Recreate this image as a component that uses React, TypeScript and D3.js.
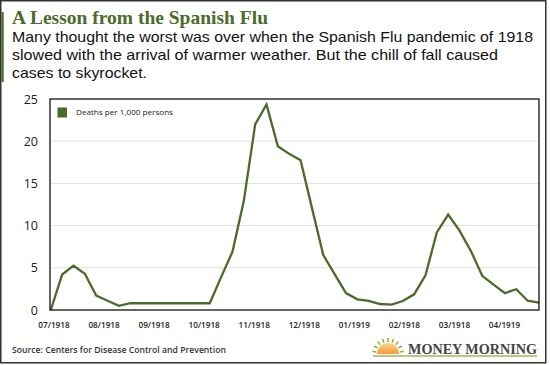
import React from "react";
import * as d3 from "d3";

const xLabels = ["07/1918", "08/1918", "09/1918", "10/1918", "11/1918", "12/1918", "01/1919", "02/1918", "03/1918", "04/1919"];
const yTicks = [0, 5, 10, 15, 20, 25];
const deaths = [0, 4.2, 5.25, 4.3, 1.7, 1.1, 0.5, 0.8, 0.8, 0.8, 0.8, 0.8, 0.8, 0.8, 0.8, 3.9, 6.9, 12.9, 22.0, 24.35, 19.4, 18.5, 17.75, 12.1, 6.5, 4.25, 2.0, 1.27, 1.07, 0.71, 0.63, 1.07, 1.86, 4.1, 9.2, 11.3, 9.4, 7.0, 4.05, 3.0, 2.0, 2.46, 1.1, 0.87];
const seriesName = "Deaths per 1,000 persons";
const title = "A Lesson from the Spanish Flu";
const subtitle = [
  "Many thought the worst was over when the Spanish Flu pandemic of 1918",
  "slowed with the arrival of warmer weather. But the chill of fall caused",
  "cases to skyrocket.",
];
const subtitleWidths = [521, 486, 135];
const source = "Source: Centers for Disease Control and Prevention";

const GREEN = "#4b6b2a";
const SANS = "'Open Sans', 'Noto Sans', sans-serif";
const SUB = "'Liberation Sans', Arial, sans-serif";

export default function App() {
  const plot = { l: 50, r: 539, t: 99, b: 310 };
  const x = d3.scaleLinear().domain([0, deaths.length - 1]).range([plot.l + 0.8, plot.r]);
  const y = d3.scaleLinear().domain([0, 25]).range([plot.b, plot.t]);
  const xl = d3.scalePoint<string>().domain(xLabels).range([54, 504.5]);
  const line = d3
    .line<number>()
    .x((_, i) => x(i))
    .y((d) => y(d));

  const rays = d3.range(9).map((i) => -Math.PI + (Math.PI * (i + 0.5)) / 9);

  return (
    <svg width={550} height={365} style={{ position: "absolute", left: 0, top: 0 }} xmlns="http://www.w3.org/2000/svg">
      <defs>
        <linearGradient id="sun" x1="0" y1="0" x2="0" y2="1">
          <stop offset="0" stopColor="#fbd38a" />
          <stop offset="1" stopColor="#f59a3a" />
        </linearGradient>
      </defs>
      <rect x={0} y={0} width={550} height={365} fill="#fff" />
      <rect x={0.75} y={0.75} width={545} height={362} fill="none" stroke="#333" strokeWidth={1.5} />
      <rect x={1.5} y={12} width={2.2} height={70} fill={GREEN} />

      <text x={12} y={24} fontFamily="'Liberation Serif', 'DejaVu Serif', serif" fontWeight="bold" fontSize={19} fill={GREEN} textLength={256} lengthAdjust="spacingAndGlyphs">
        {title}
      </text>
      {subtitle.map((s, i) => (
        <text key={i} x={12} y={42 + i * 18} fontFamily={SUB} fontSize={14.5} fill="#111" textLength={subtitleWidths[i]} lengthAdjust="spacingAndGlyphs">
          {s}
        </text>
      ))}

      {/* gridlines */}
      {yTicks
        .filter((t) => t > 0 && t < 25)
        .map((t) => (
          <line key={t} x1={plot.l} x2={plot.r} y1={y(t)} y2={y(t)} stroke="#e0e0e0" strokeWidth={1} />
        ))}
      {yTicks.map((t) => (
        <text key={t} x={38} y={y(t)} dy="0.36em" textAnchor="end" fontFamily={SANS} fontSize={12.5} fontWeight={500} fill="#222">
          {t}
        </text>
      ))}
      {xLabels.map((l) => (
        <text key={l} x={xl(l)} y={328} textAnchor="middle" fontFamily={SANS} fontSize={8.2} fontWeight={600} fill="#222">
          {l}
        </text>
      ))}

      <path d={line(deaths) || ""} fill="none" stroke={GREEN} strokeWidth={2.3} strokeLinejoin="miter" />
      <rect x={plot.l} y={plot.t} width={plot.r - plot.l} height={plot.b - plot.t} fill="none" stroke="#111" strokeWidth={1.3} />

      {/* legend */}
      <rect x={57.5} y={107.5} width={9.5} height={10} fill={GREEN} />
      <text x={76} y={115} fontFamily={SANS} fontSize={8} fontWeight={500} fill="#222" textLength={97} lengthAdjust="spacingAndGlyphs">
        {seriesName}
      </text>

      <text x={12} y={353} fontFamily={SANS} fontSize={8} fontWeight={600} fill="#333" textLength={214} lengthAdjust="spacingAndGlyphs">
        {source}
      </text>

      {/* logo */}
      <g>
        {rays.map((a, i) => (
          <line
            key={i}
            x1={388 + Math.cos(a) * 12}
            y1={354 + Math.sin(a) * 12}
            x2={388 + Math.cos(a) * 16}
            y2={354 + Math.sin(a) * 16}
            stroke="#8fb43a"
            strokeWidth={1.6}
          />
        ))}
        <path d="M377,354 A11,11 0 0 1 399,354 Z" fill="url(#sun)" />
        <text x={408} y={353.5} fontFamily="'Liberation Serif', serif" fontWeight="bold" fontSize={15} fill="#444" textLength={129} lengthAdjust="spacingAndGlyphs">
          MONEY MORNING
        </text>
        <line x1={373} x2={537} y1={356} y2={356} stroke="#9bbb59" strokeWidth={1.5} />
      </g>
    </svg>
  );
}
